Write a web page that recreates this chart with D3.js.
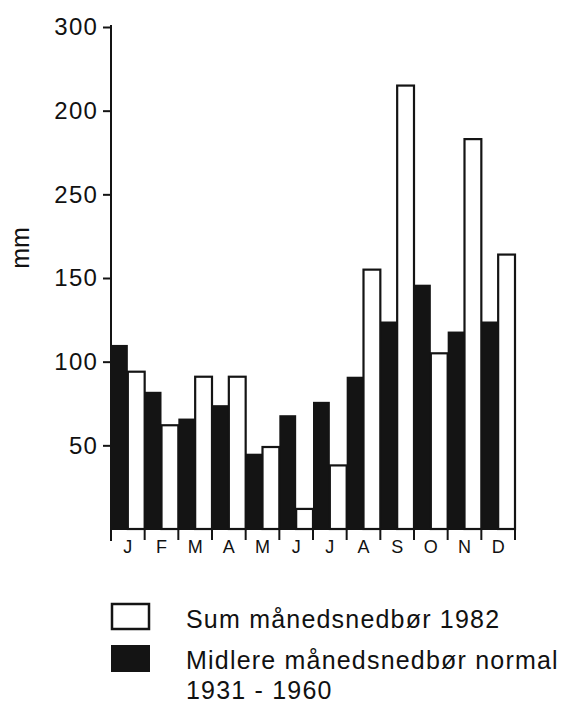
<!DOCTYPE html>
<html>
<head>
<meta charset="utf-8">
<script src="https://cdn.jsdelivr.net/npm/d3@7"></script>
<style>
  html, body { margin: 0; padding: 0; background: #fff; }
  svg { display: block; }
  text { font-family: "Liberation Sans", Arial, Helvetica, sans-serif; fill: #111; }
</style>
</head>
<body>
<svg id="chart" width="568" height="706"></svg>
<script>
// ---- data ----
const months = ["J", "F", "M", "A", "M", "J", "J", "A", "S", "O", "N", "D"];
const normal1931_1960 = [110, 82, 66, 74, 45, 68, 76, 91, 124, 146, 118, 124];
const sum1982 = [94, 62, 91, 91, 49, 12, 38, 155, 265, 105, 233, 164];
const yTickValues = [50, 100, 150, 200, 250, 300];
const yTickLabels = ["50", "100", "150", "250", "200", "300"]; // as printed in the original
const legendLabels = ["Sum månedsnedbør 1982", "Midlere månedsnedbør normal", "1931 - 1960"];
const yAxisTitle = "mm";

// ---- layout ----
const svg = d3.select("#chart");
const ink = "#141414";
const x0 = 111, x1 = 515, yBase = 529, yTop = 27;

const idx = months.map((m, i) => i);
const x = d3.scaleBand().domain(idx).range([x0, x1]).padding(0);
const sub = d3.scaleBand().domain(["normal", "sum"]).range([0, x.bandwidth()]).padding(0);
const y = d3.scaleLinear().domain([0, 300]).range([yBase, yTop]);

// bars: normal (dark)
svg.append("g").selectAll("rect").data(idx).join("rect")
  .attr("x", i => x(i) + sub("normal"))
  .attr("y", i => y(normal1931_1960[i]))
  .attr("width", sub.bandwidth())
  .attr("height", i => y(0) - y(normal1931_1960[i]))
  .attr("fill", ink);

// bars: 1982 (white, outlined)
svg.append("g").selectAll("rect").data(idx).join("rect")
  .attr("x", i => x(i) + sub("sum"))
  .attr("y", i => y(sum1982[i]))
  .attr("width", sub.bandwidth())
  .attr("height", i => y(0) - y(sum1982[i]))
  .attr("fill", "#fff")
  .attr("stroke", ink)
  .attr("stroke-width", 2.2);

// baseline
svg.append("line")
  .attr("x1", x0).attr("x2", x1)
  .attr("y1", yBase).attr("y2", yBase)
  .attr("stroke", ink).attr("stroke-width", 2);

// month boundary ticks
const bounds = idx.map(i => x(i)).concat([x1]);
svg.append("g").selectAll("line").data(bounds).join("line")
  .attr("x1", d => d).attr("x2", d => d)
  .attr("y1", yBase).attr("y2", yBase + 11)
  .attr("stroke", ink).attr("stroke-width", 2);

// month labels via axis
const xAxis = d3.axisBottom(x).tickSize(0).tickPadding(0).tickFormat(i => months[i]);
const gx = svg.append("g").attr("transform", `translate(0,${yBase})`).call(xAxis);
gx.select(".domain").remove();
gx.selectAll("text")
  .attr("dy", null).attr("y", 24)
  .style("font-size", "18px").style("font-family", "'Liberation Sans', Arial, sans-serif")
  .attr("fill", ink);

// y axis
const yAxis = d3.axisLeft(y).tickValues(yTickValues).tickSize(8).tickPadding(5)
  .tickFormat((d, i) => yTickLabels[yTickValues.indexOf(d)]);
const gy = svg.append("g").attr("transform", `translate(${x0},0)`).call(yAxis);
gy.select(".domain").remove();
gy.selectAll(".tick line").attr("stroke", ink).attr("stroke-width", 2);
gy.selectAll(".tick text")
  .style("font-size", "24px").style("font-family", "'Liberation Sans', Arial, sans-serif")
  .style("letter-spacing", "1.2px")
  .attr("fill", ink);
svg.append("line")
  .attr("x1", x0).attr("x2", x0)
  .attr("y1", yTop - 2).attr("y2", yBase + 12)
  .attr("stroke", ink).attr("stroke-width", 2);

// axis title
svg.append("text")
  .attr("transform", "translate(29,248) rotate(-90)")
  .attr("text-anchor", "middle")
  .style("font-size", "25px")
  .text(yAxisTitle);

// legend
const lg = svg.append("g");
lg.append("rect").attr("x", 112).attr("y", 604).attr("width", 37).attr("height", 25)
  .attr("fill", "#fff").attr("stroke", ink).attr("stroke-width", 2.5);
lg.append("rect").attr("x", 111).attr("y", 645).attr("width", 39).attr("height", 27)
  .attr("fill", ink);
const lgStyle = sel => sel.style("font-size", "25px").style("letter-spacing", "1.2px");
lg.append("text").attr("x", 186).attr("y", 628).call(lgStyle).text(legendLabels[0]);
lg.append("text").attr("x", 186).attr("y", 669).call(lgStyle).text(legendLabels[1]);
lg.append("text").attr("x", 186).attr("y", 699).call(lgStyle).text(legendLabels[2]);
</script>
</body>
</html>
